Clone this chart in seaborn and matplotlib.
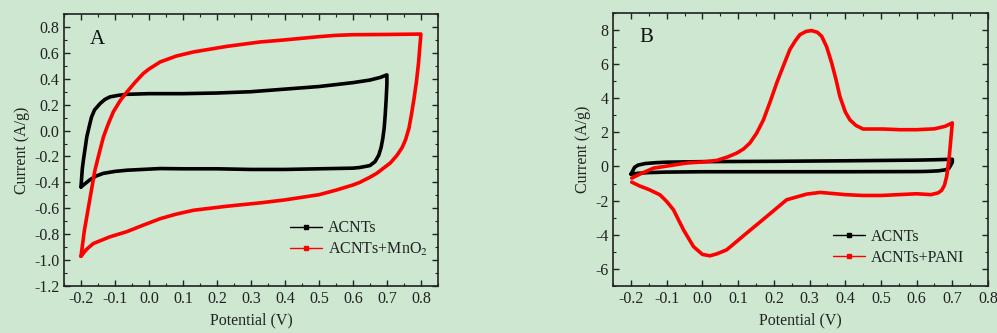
import matplotlib
matplotlib.use("Agg")
import matplotlib.pyplot as plt
import seaborn as sns
import pandas as pd
from matplotlib.lines import Line2D
from matplotlib.ticker import MultipleLocator

# ---------------- data ----------------
# Panel A, ACNTs (black)
a_acnt_x = [-0.2, -0.198, -0.196, -0.193, -0.188, -0.183, -0.176, -0.169, -0.16, -0.144, -0.13, -0.115, -0.09, -0.065,
            0.0, 0.1, 0.2, 0.3, 0.4, 0.5, 0.6, 0.65, 0.68, 0.7,
            0.7, 0.698, 0.695, 0.692, 0.688, 0.683, 0.676, 0.665, 0.65, 0.62, 0.6, 0.5, 0.4, 0.3, 0.2, 0.1,
            0.033, -0.065, -0.1, -0.134, -0.155, -0.174, -0.188, -0.2]
a_acnt_y = [-0.435, -0.36, -0.29, -0.229, -0.14, -0.049, 0.03, 0.105, 0.16, 0.208, 0.24, 0.26, 0.272, 0.28,
            0.285, 0.285, 0.29, 0.30, 0.32, 0.34, 0.37, 0.39, 0.41, 0.43,
            0.36, 0.25, 0.12, 0.02, -0.06, -0.13, -0.19, -0.24, -0.27, -0.285, -0.29, -0.295, -0.30, -0.30, -0.295, -0.295,
            -0.293, -0.306, -0.315, -0.33, -0.35, -0.38, -0.41, -0.435]

# Panel A, ACNTs+MnO2 (red)
a_mno2_x = [-0.2, -0.195, -0.19, -0.184, -0.178, -0.168, -0.159, -0.147, -0.134, -0.12, -0.105, -0.085, -0.065,
            -0.04, -0.017, 0.0, 0.033, 0.08, 0.131, 0.229, 0.327, 0.4, 0.5, 0.55, 0.6, 0.7, 0.8,
            0.8, 0.797, 0.793, 0.787, 0.78, 0.772, 0.765, 0.755, 0.745, 0.73, 0.71, 0.69, 0.67, 0.65,
            0.62, 0.6, 0.55, 0.5, 0.4, 0.327, 0.229, 0.131, 0.08, 0.033, -0.017, -0.065, -0.115, -0.164, -0.185, -0.2]
a_mno2_y = [-0.97, -0.87, -0.77, -0.68, -0.59, -0.44, -0.306, -0.18, -0.049, 0.05, 0.144, 0.23, 0.298,
            0.375, 0.44, 0.475, 0.53, 0.575, 0.607, 0.65, 0.684, 0.70, 0.725, 0.735, 0.74, 0.742, 0.745,
            0.745, 0.65, 0.52, 0.38, 0.25, 0.12, 0.02, -0.07, -0.13, -0.19, -0.25, -0.29, -0.33, -0.36,
            -0.40, -0.42, -0.46, -0.495, -0.535, -0.558, -0.584, -0.615, -0.645, -0.68, -0.73, -0.78, -0.82, -0.872, -0.92, -0.97]

# Panel B, ACNTs (black)
b_acnt_x = [-0.2, -0.195, -0.19, -0.18, -0.16, -0.13, -0.1, 0.0, 0.2, 0.4, 0.6, 0.65, 0.7,
            0.7, 0.695, 0.69, 0.68, 0.66, 0.63, 0.6, 0.4, 0.2, 0.0, -0.1, -0.15, -0.18, -0.2]
b_acnt_y = [-0.45, -0.25, -0.05, 0.08, 0.17, 0.22, 0.25, 0.28, 0.30, 0.33, 0.37, 0.39, 0.42,
            0.25, 0.05, -0.12, -0.2, -0.26, -0.29, -0.30, -0.31, -0.31, -0.31, -0.33, -0.36, -0.40, -0.45]

# Panel B, ACNTs+PANI (red)
b_pani_x = [-0.198, -0.17, -0.137, -0.1, -0.044, 0.0, 0.04, 0.07, 0.096, 0.115, 0.133, 0.152, 0.171, 0.19,
            0.208, 0.227, 0.245, 0.26, 0.273, 0.29, 0.306, 0.322, 0.334, 0.348, 0.362, 0.374, 0.385,
            0.4, 0.413, 0.43, 0.45, 0.506, 0.553, 0.6, 0.65, 0.68, 0.7,
            0.698, 0.695, 0.692, 0.688, 0.684, 0.678, 0.67, 0.66, 0.64, 0.6, 0.55, 0.5, 0.45, 0.4, 0.33,
            0.292, 0.236, 0.18, 0.124, 0.068, 0.04, 0.021, 0.0, -0.025, -0.053, -0.081, -0.1, -0.119, -0.15,
            -0.175, -0.198]
b_pani_y = [-0.68, -0.4, -0.1, 0.02, 0.2, 0.26, 0.35, 0.55, 0.78, 1.02, 1.37, 1.95, 2.73, 3.8,
            4.88, 5.9, 6.84, 7.35, 7.71, 7.9, 7.95, 7.85, 7.62, 7.0, 6.06, 5.1, 4.1,
            3.2, 2.73, 2.4, 2.19, 2.19, 2.15, 2.15, 2.2, 2.35, 2.55,
            2.1, 1.4, 0.7, 0.0, -0.6, -1.1, -1.4, -1.55, -1.65, -1.6, -1.65, -1.7, -1.7, -1.65, -1.52,
            -1.62, -1.95, -2.93, -3.9, -4.88, -5.12, -5.23, -5.15, -4.69, -3.71, -2.54, -2.05, -1.66, -1.35,
            -1.15, -0.92]

# ---------------- styling ----------------
BG = "#cde7d1"
INK = "#222222"
FS = 11.5
sns.set_theme(style="ticks")
plt.rcParams['font.family'] = ['Liberation Serif', 'DejaVu Serif']
plt.rcParams['mathtext.fontset'] = 'stix'

fig = plt.figure(figsize=(9.97, 3.33), dpi=100, facecolor=BG)
axA = fig.add_axes([0.0642, 0.141, 0.375, 0.817])
axB = fig.add_axes([0.615, 0.141, 0.376, 0.821])


def draw(ax, x, y, color):
    df = pd.DataFrame({"x": x, "y": y})
    sns.lineplot(data=df, x="x", y="y", sort=False, estimator=None, color=color,
                 linewidth=2.6, ax=ax, legend=False)


draw(axA, a_acnt_x, a_acnt_y, "black")
draw(axA, a_mno2_x, a_mno2_y, "#ff0000")
draw(axB, b_acnt_x, b_acnt_y, "black")
draw(axB, b_pani_x, b_pani_y, "#ff0000")


def style(ax, xlim, ylim, xmaj, xmin, ymaj, ymin, yfmt):
    ax.set_facecolor(BG)
    ax.set_xlim(*xlim)
    ax.set_ylim(*ylim)
    ax.xaxis.set_major_locator(MultipleLocator(xmaj))
    ax.xaxis.set_minor_locator(MultipleLocator(xmin))
    ax.yaxis.set_major_locator(MultipleLocator(ymaj))
    ax.yaxis.set_minor_locator(MultipleLocator(ymin))
    ax.xaxis.set_major_formatter(plt.FuncFormatter(lambda v, p: f"{v:.1f}" if abs(v) > 1e-9 else "0.0"))
    ax.yaxis.set_major_formatter(plt.FuncFormatter(yfmt))
    ax.tick_params(which="both", direction="in", top=True, right=True, colors=INK,
                   labelsize=FS, labelcolor=INK)
    ax.tick_params(which="major", length=4, width=1)
    ax.tick_params(which="minor", length=2.5, width=0.8)
    for s in ax.spines.values():
        s.set_color(INK)
        s.set_linewidth(1.2)
    ax.set_xlabel("Potential (V)", fontsize=FS, color=INK, labelpad=4)
    ax.set_ylabel("Current (A/g)", fontsize=FS, color=INK, labelpad=3)


style(axA, (-0.25, 0.85), (-1.2, 0.9), 0.1, 0.05, 0.2, 0.1,
      lambda v, p: f"{v:.1f}" if abs(v) > 1e-9 else "0.0")
style(axB, (-0.25, 0.8), (-7, 9), 0.1, 0.05, 2, 1,
      lambda v, p: f"{v:.0f}" if abs(v) > 1e-9 else "0")

axA.text(0.07, 0.94, "A", transform=axA.transAxes, fontsize=15, va="top", ha="left", color="#111111")
axB.text(0.07, 0.945, "B", transform=axB.transAxes, fontsize=15, va="top", ha="left", color="#111111")


def handles(labels):
    return [Line2D([0], [0], color=c, lw=1.0, marker="s", markersize=2.5, label=l)
            for c, l in zip(["black", "#ff0000"], labels)]


axA.legend(handles=handles(["ACNTs", r"ACNTs+MnO$_2$"]), loc="lower left",
           bbox_to_anchor=(0.567, 0.05), frameon=False, fontsize=FS, handlelength=2.0,
           handletextpad=0.35, labelspacing=0.3, labelcolor=INK)
axB.legend(handles=handles(["ACNTs", "ACNTs+PANI"]), loc="lower left",
           bbox_to_anchor=(0.549, 0.022), frameon=False, fontsize=FS, handlelength=2.0,
           handletextpad=0.35, labelspacing=0.3, labelcolor=INK)

fig.savefig("out.png", dpi=100, facecolor=BG)
